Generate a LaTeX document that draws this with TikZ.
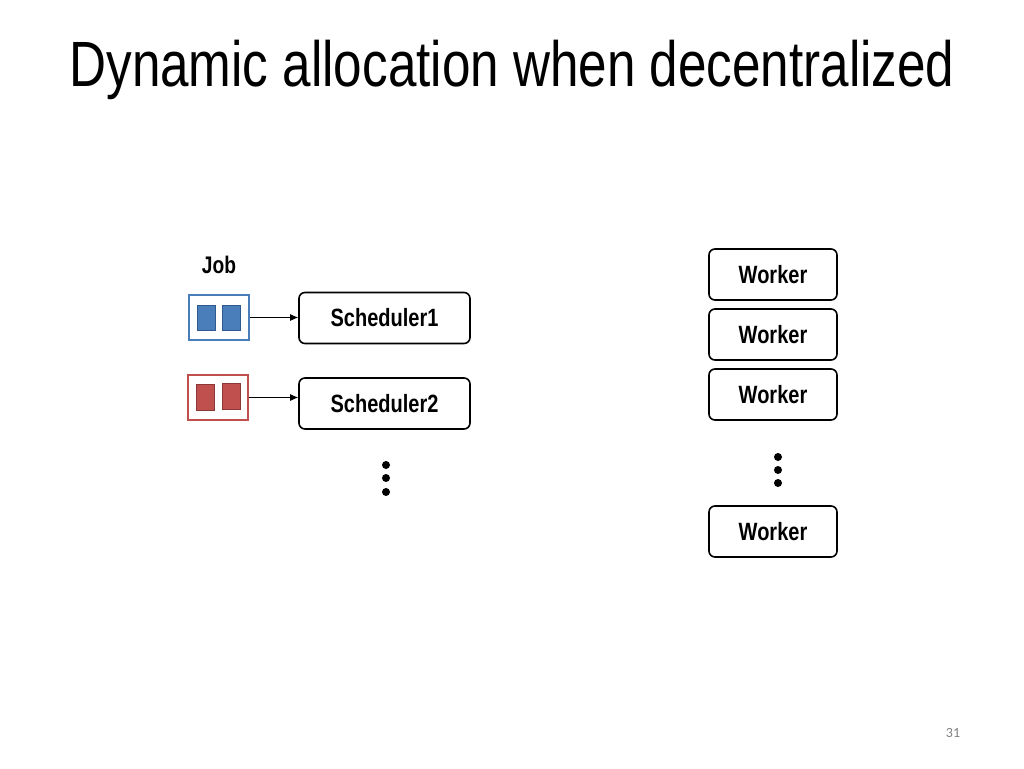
\documentclass[tikz,border=0pt]{standalone}
\usepackage{fontspec}
\usetikzlibrary{arrows.meta}
\setmainfont{Liberation Sans}[FakeStretch=0.8]
\newfontfamily\pgnum{Carlito}
\begin{document}
\begin{tikzpicture}[x=1pt,y=-1pt,
  box/.style={draw,line width=1.6pt,rounded corners=6pt,minimum height=51pt,font=\bfseries\fontsize{25}{27}\selectfont,inner sep=0pt},
  sch/.style={box,minimum width=171pt},
  wk/.style={box,minimum width=128pt},
  dot/.style={fill,circle,inner sep=0pt,minimum size=8pt},
  arr/.style={-{Latex[length=8pt,width=7pt]},line width=0.8pt}]
\useasboundingbox (0,0) rectangle (1024,768);
\node[font=\fontsize{64}{70}\selectfont] (title) at (512,70) {Dynamic allocation when decentralized};
\node[font=\bfseries\fontsize{24}{26}\selectfont] (job) at (219,265) {Job};
\definecolor{jb}{HTML}{4A7EBB}\definecolor{jbd}{HTML}{2F5A8F}
\definecolor{jr}{HTML}{C0504D}\definecolor{jrd}{HTML}{8C3836}
\node[draw=jb,line width=2pt,minimum width=60pt,minimum height=45pt] (j1) at (218.5,317.5) {};
\filldraw[fill=jb,draw=jbd,line width=1pt] (197,305) rectangle (215,330) (222,305) rectangle (240,330);
\node[draw=jr,line width=2pt,minimum width=60pt,minimum height=45pt] (j2) at (217.5,397.5) {};
\filldraw[fill=jr,draw=jrd,line width=1pt] (196,384) rectangle (214,410) (222,383) rectangle (240,409);
\node[sch] (s1) at (384.5,318) {Scheduler1};
\node[sch] (s2) at (384.5,403.5) {Scheduler2};
\draw[arr] (j1.east) -- (j1.east -| s1.west);
\draw[arr] (j2.east) -- (j2.east -| s2.west);
\node[dot] (d1) at (386,465) {};\node[dot] (d2) at (386,478) {};\node[dot] (d3) at (386,492) {};
\node[wk] (w1) at (773,274.5) {Worker};
\node[wk] (w2) at (773,334.5) {Worker};
\node[wk] (w3) at (773,394.5) {Worker};
\node[wk] (w4) at (773,531.5) {Worker};
\node[dot] (e1) at (778,457) {};\node[dot] (e2) at (778,470) {};\node[dot] (e3) at (778,483) {};
\node[font=\pgnum\fontsize{14}{16}\selectfont,text=gray] (pg) at (953,733) {31};
\end{tikzpicture}
\end{document}
